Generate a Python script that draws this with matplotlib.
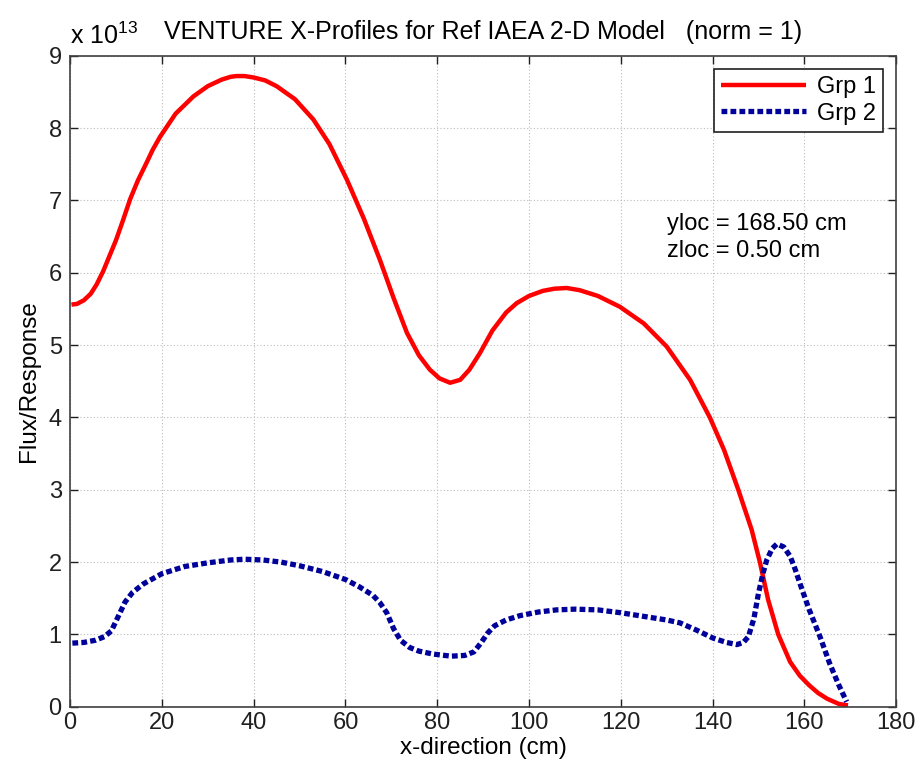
import matplotlib
matplotlib.use("Agg")
import matplotlib.pyplot as plt

plt.rcParams['font.family'] = ['Liberation Sans', 'DejaVu Sans']
plt.rcParams['mathtext.fontset'] = 'custom'
plt.rcParams['mathtext.rm'] = 'Liberation Sans'

# flux profiles along x, in units of 1e13
x_grp1 = [0.3, 1.5, 3, 4.5, 5.8, 7.2, 8.7, 10, 11.5, 13.1, 14.8, 16.5, 18, 19.6, 23,
          26.9, 30, 33, 35, 36.3, 38, 40, 42.5, 45, 49, 53, 56.5, 60.3, 64, 67.5, 70.5,
          73.4, 76, 78.4, 80.5, 82.8, 85, 87, 89.3, 92, 95, 97.3, 100, 103, 105.5,
          108.2, 111, 115, 119.8, 125, 130, 135.1, 139.4, 142.5, 145.6, 148.5, 150.3,
          152.1, 154.3, 156.9, 159, 161, 163, 165, 167.5, 169.5]
y_grp1 = [5.56, 5.57, 5.62, 5.71, 5.84, 6.02, 6.25, 6.45, 6.72, 7.02, 7.28, 7.5, 7.7,
          7.88, 8.2, 8.44, 8.58, 8.67, 8.71, 8.72, 8.72, 8.7, 8.66, 8.58, 8.4, 8.12,
          7.78, 7.29, 6.75, 6.18, 5.65, 5.17, 4.86, 4.66, 4.54, 4.48, 4.52, 4.66, 4.89,
          5.2, 5.45, 5.58, 5.68, 5.75, 5.78, 5.79, 5.76, 5.68, 5.53, 5.3, 4.98, 4.52,
          4.0, 3.55, 3.0, 2.45, 2.0, 1.48, 1.0, 0.62, 0.43, 0.3, 0.19, 0.11, 0.04, 0.02]

x_grp2 = [0.5, 3, 5.5, 7.5, 9, 10.5, 12, 13.6, 16, 20, 25, 30, 35, 38, 42, 46, 50, 55,
          60, 63, 66, 67.5, 69, 70.5, 72, 74, 76, 79, 83, 86, 88, 89.5, 91, 92.5, 95,
          98, 102, 106, 110, 115, 120, 125, 130, 132.9, 136.5, 140.1, 143, 145.3,
          146.7, 147.8, 149, 150, 151, 151.8, 153, 154, 155.5, 156.9, 158, 159,
          161, 163.4, 165.5, 167.5, 169.2]
y_grp2 = [0.88, 0.89, 0.92, 0.97, 1.05, 1.25, 1.45, 1.58, 1.7, 1.84, 1.94, 1.99, 2.03,
          2.04, 2.03, 2.0, 1.95, 1.87, 1.76, 1.66, 1.54, 1.44, 1.3, 1.08, 0.92, 0.82,
          0.77, 0.73, 0.7, 0.71, 0.76, 0.88, 1.02, 1.12, 1.2, 1.26, 1.31, 1.34, 1.35,
          1.34, 1.3, 1.25, 1.2, 1.16, 1.06, 0.95, 0.89, 0.86, 0.89, 0.97, 1.22, 1.57,
          1.85, 2.03, 2.19, 2.25, 2.21, 2.08, 1.9, 1.71, 1.35, 0.97, 0.6, 0.3, 0.07]

xticks = list(range(0, 181, 20))
yticks = list(range(0, 10))

fig = plt.figure(figsize=(9.22, 7.75), dpi=100)
ax = fig.add_axes([0.076, 0.088, 0.896, 0.84])

ax.plot(x_grp1, y_grp1, color='#ff0000', lw=3.2, label='Grp 1', solid_capstyle='butt',
        solid_joinstyle='round')
ax.plot(x_grp2, y_grp2, color='#00009a', lw=3.8, ls=(0, (1.1, 0.6)), label='Grp 2')

ax.set_xlim(0, 180)
ax.set_ylim(0, 9)
ax.set_xticks(xticks)
ax.set_yticks(yticks)
ax.tick_params(direction='in', length=6, width=1, colors='#202020', labelsize=17,
               top=True, right=True, pad=6)
ax.tick_params(axis='x', pad=4)
for sp in ax.spines.values():
    sp.set_color('#404040')
    sp.set_linewidth(1.2)
ax.grid(True, ls=(0, (1, 2)), color='#bcbcbc', lw=0.8)

ax.set_xlabel('x-direction (cm)', fontsize=17.5, labelpad=2)
ax.set_ylabel('Flux/Response', fontsize=17.5, labelpad=6)
ax.set_title('VENTURE X-Profiles for Ref IAEA 2-D Model   (norm = 1)', fontsize=18, pad=12)
ax.text(0.0, 1.01, r'x 10$^{13}$', transform=ax.transAxes, fontsize=18, ha='left',
        va='bottom')

ax.text(130, 6.49, 'yloc = 168.50 cm\nzloc = 0.50 cm', fontsize=17, va='center',
        linespacing=1.3)

leg = ax.legend(loc='upper right', fontsize=17, handlelength=3.6, fancybox=False,
                framealpha=1, edgecolor='#202020', borderaxespad=0.55, handletextpad=0.45,
                labelspacing=0.2, borderpad=0.3)
leg.get_frame().set_linewidth(1.2)

fig.savefig('out.png', dpi=100, facecolor='white')
